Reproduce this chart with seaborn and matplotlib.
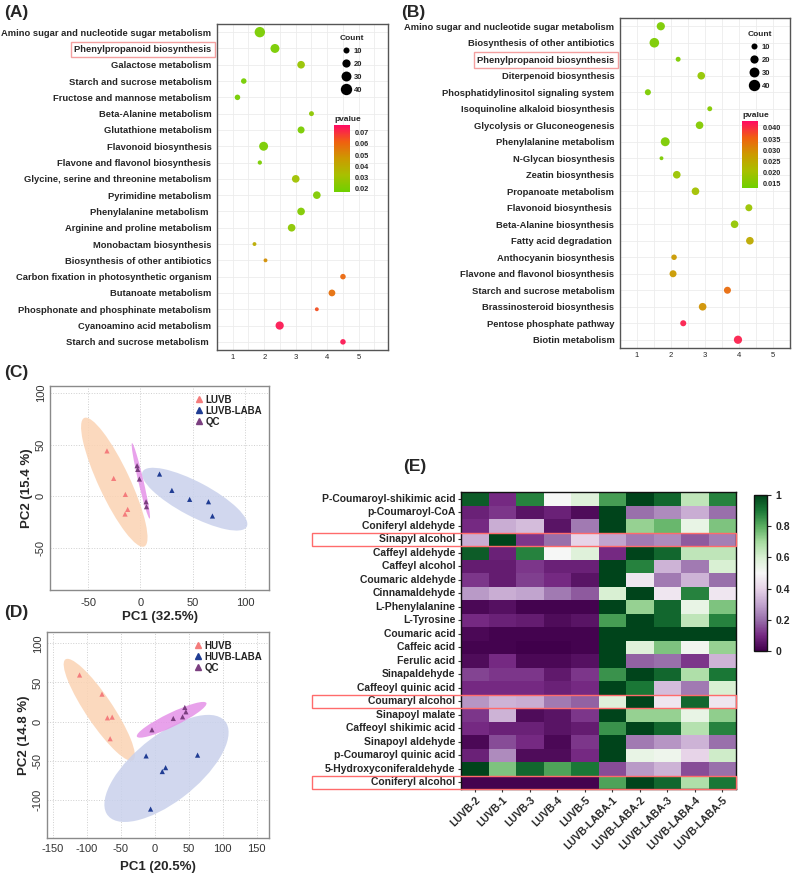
import numpy as np
import pandas as pd
import matplotlib
matplotlib.use('Agg')
import matplotlib.pyplot as plt
import seaborn as sns
from matplotlib.colors import LinearSegmentedColormap, Normalize
from matplotlib.lines import Line2D
from matplotlib.patches import Ellipse, Rectangle

# ---------- (A) KEGG enrichment, LUVB ----------
a_paths = ['Amino sugar and nucleotide sugar metabolism', 'Phenylpropanoid biosynthesis',
           'Galactose metabolism', 'Starch and sucrose metabolism', 'Fructose and mannose metabolism',
           'Beta-Alanine metabolism', 'Glutathione metabolism', 'Flavonoid biosynthesis',
           'Flavone and flavonol biosynthesis', 'Glycine, serine and threonine metabolism',
           'Pyrimidine metabolism', 'Phenylalanine metabolism ', 'Arginine and proline metabolism',
           'Monobactam biosynthesis', 'Biosynthesis of other antibiotics',
           'Carbon fixation in photosynthetic organism', 'Butanoate metabolism',
           'Phosphonate and phosphinate metabolism', 'Cyanoamino acid metabolism',
           'Starch and sucrose metabolism ']
a_rich = [1.86, 2.34, 3.17, 1.35, 1.15, 3.50, 3.17, 1.98, 1.86, 3.00,
          3.67, 3.17, 2.87, 1.69, 2.04, 4.50, 4.15, 3.67, 2.49, 4.50]
a_count = [33, 24, 17, 8, 8, 6, 14, 24, 4, 17, 17, 17, 17, 3, 3, 8, 13, 3, 20, 8]
a_pval = [0.020, 0.020, 0.028, 0.019, 0.019, 0.025, 0.020, 0.020, 0.020, 0.030,
          0.022, 0.022, 0.025, 0.040, 0.050, 0.060, 0.058, 0.065, 0.074, 0.074]

# ---------- (B) KEGG enrichment, HUVB ----------
b_paths = ['Amino sugar and nucleotide sugar metabolism', 'Biosynthesis of other antibiotics',
           'Phenylpropanoid biosynthesis', 'Diterpenoid biosynthesis',
           'Phosphatidylinositol signaling system', 'Isoquinoline alkaloid biosynthesis',
           'Glycolysis or Gluconeogenesis', 'Phenylalanine metabolism', 'N-Glycan biosynthesis',
           'Zeatin biosynthesis', 'Propanoate metabolism', 'Flavonoid biosynthesis ',
           'Beta-Alanine biosynthesis', 'Fatty acid degradation ', 'Anthocyanin biosynthesis',
           'Flavone and flavonol biosynthesis', 'Starch and sucrose metabolism',
           'Brassinosteroid biosynthesis', 'Pentose phosphate pathway', 'Biotin metabolism']
b_rich = [1.70, 1.51, 2.21, 2.89, 1.32, 3.14, 2.84, 1.83, 1.72, 2.17,
          2.72, 4.29, 3.87, 4.32, 2.09, 2.06, 3.66, 2.93, 2.36, 3.97]
b_count = [20, 28, 6, 17, 10, 6, 17, 24, 3, 17, 17, 14, 17, 17, 8, 14, 14, 17, 10, 20]
b_pval = [0.015, 0.015, 0.015, 0.018, 0.015, 0.016, 0.016, 0.015, 0.015, 0.019,
          0.020, 0.019, 0.018, 0.025, 0.028, 0.028, 0.034, 0.029, 0.041, 0.041]

# ---------- (C) PCA LUVB ----------
c_groups = ['LUVB'] * 5 + ['LUVB-LABA'] * 5 + ['QC'] * 5
c_pc1 = [-32, -25.6, -14.4, -12.2, -14.7, 18.3, 30.1, 47.1, 65.1, 68.9, -3.2, -2.6, -1.0, 5.4, 5.8]
c_pc2 = [44, 17.4, 1.9, -12.6, -17.1, 21.6, 5.8, -2.9, -5.2, -19.0, 29.7, 26.1, 16.8, -5.2, -10.0]
# 95% regions (centre, axes, angle) per group
c_ell_cx = [-25.0, 51.9, 0.4]
c_ell_cy = [13.7, -2.7, 15.0]
c_ell_w = [137, 113, 75]
c_ell_h = [30, 33, 5]
c_ell_ang = [-65.2, -28.2, -77.0]

# ---------- (D) PCA HUVB ----------
d_groups = ['HUVB'] * 5 + ['HUVB-LABA'] * 5 + ['QC'] * 5
d_pc1 = [-111, -78, -70, -63, -66, -13, 15.7, 10.8, 62.8, -6.4, -4.4, 27, 40.7, 44, 45.6]
d_pc2 = [59.5, 35, 4.7, 5.6, -22, -44, -59, -64, -43, -112, -10.6, 3.9, 6.0, 18, 12.4]
d_ell_cx = [-82.0, 17.0, 24.6]
d_ell_cy = [15.0, -60.0, 2.2]
d_ell_w = [163, 211, 111]
d_ell_h = [38, 88, 18]
d_ell_ang = [-51.9, 33.2, 22.6]

# ---------- (E) heatmap ----------
e_compounds = ['P-Coumaroyl-shikimic acid', 'p-Coumaroyl-CoA', 'Coniferyl aldehyde',
               'Sinapyl alcohol', 'Caffeyl aldehyde', 'Caffeyl alcohol', 'Coumaric aldehyde',
               'Cinnamaldehyde', 'L-Phenylalanine', 'L-Tyrosine', 'Coumaric acid', 'Caffeic acid',
               'Ferulic acid', 'Sinapaldehyde', 'Caffeoyl quinic acid', 'Coumaryl alcohol',
               'Sinapoyl malate', 'Caffeoyl shikimic acid', 'Sinapoyl aldehyde',
               'p-Coumaroyl quinic acid', '5-Hydroxyconiferaldehyde', 'Coniferyl alcohol']
e_samples = ['LUVB-2', 'LUVB-1', 'LUVB-3', 'LUVB-4', 'LUVB-5',
             'LUVB-LABA-1', 'LUVB-LABA-2', 'LUVB-LABA-3', 'LUVB-LABA-4', 'LUVB-LABA-5']
e_values = [
    [0.95, 0.10, 0.88, 0.50, 0.58, 0.83, 1.00, 0.93, 0.65, 0.88],
    [0.08, 0.12, 0.05, 0.08, 0.03, 1.00, 0.20, 0.25, 0.32, 0.20],
    [0.10, 0.32, 0.35, 0.05, 0.22, 1.00, 0.72, 0.78, 0.55, 0.75],
    [0.32, 1.00, 0.12, 0.20, 0.40, 0.30, 0.22, 0.25, 0.17, 0.23],
    [0.95, 0.08, 0.88, 0.50, 0.58, 0.10, 1.00, 0.93, 0.65, 0.65],
    [0.07, 0.07, 0.12, 0.08, 0.08, 1.00, 0.88, 0.33, 0.22, 0.60],
    [0.12, 0.07, 0.13, 0.10, 0.05, 1.00, 0.45, 0.22, 0.33, 0.20],
    [0.28, 0.32, 0.30, 0.22, 0.17, 0.60, 1.00, 0.45, 0.88, 0.45],
    [0.02, 0.04, 0.01, 0.01, 0.01, 1.00, 0.72, 0.93, 0.55, 0.75],
    [0.10, 0.08, 0.07, 0.03, 0.05, 0.83, 1.00, 0.93, 0.65, 0.88],
    [0.02, 0.01, 0.01, 0.01, 0.01, 1.00, 1.00, 1.00, 1.00, 1.00],
    [0.01, 0.01, 0.00, 0.00, 0.01, 1.00, 0.58, 0.75, 0.52, 0.72],
    [0.03, 0.10, 0.02, 0.02, 0.04, 1.00, 0.18, 0.20, 0.12, 0.33],
    [0.14, 0.12, 0.12, 0.06, 0.12, 0.85, 1.00, 0.93, 0.68, 0.90],
    [0.10, 0.10, 0.10, 0.08, 0.10, 1.00, 0.90, 0.35, 0.22, 0.60],
    [0.27, 0.33, 0.32, 0.22, 0.18, 0.58, 1.00, 0.45, 0.93, 0.45],
    [0.12, 0.33, 0.03, 0.05, 0.12, 1.00, 0.72, 0.72, 0.55, 0.73],
    [0.10, 0.08, 0.08, 0.05, 0.07, 0.85, 1.00, 0.93, 0.67, 0.88],
    [0.02, 0.15, 0.10, 0.02, 0.12, 1.00, 0.22, 0.27, 0.33, 0.20],
    [0.08, 0.25, 0.03, 0.03, 0.10, 1.00, 0.55, 0.53, 0.40, 0.62],
    [1.00, 0.75, 0.93, 0.82, 0.90, 0.15, 0.28, 0.33, 0.15, 0.20],
    [0.01, 0.01, 0.01, 0.01, 0.01, 0.82, 1.00, 0.93, 0.68, 0.90],
]
boxed_rows = ['Sinapyl alcohol', 'Coumaryl alcohol', 'Coniferyl alcohol']

sns.set_style('white')
plt.rcParams['font.family'] = ['Liberation Sans', 'DejaVu Sans']
plt.rcParams['axes.unicode_minus'] = False

W, H = 798, 873
fig = plt.figure(figsize=(W / 100, H / 100), dpi=100)


def px_axes(x0, y0, x1, y1):
    # pixel box (top-left origin) -> figure axes
    return fig.add_axes([x0 / W, 1 - y1 / H, (x1 - x0) / W, (y1 - y0) / H])


pcmap = LinearSegmentedColormap.from_list(
    'pv', ['#6fd000', '#a8c000', '#cc9a00', '#f06010', '#ff0a64'])

box_red = '#f4a0a0'


def bubble_panel(ax, paths, rich, count, pval, xlim, pnorm, cax, cticks, cfmt,
                 leg_xy):
    df = pd.DataFrame({'path': paths, 'rich': rich, 'count': count, 'pval': pval,
                       'pos': np.arange(len(paths))})
    sns.scatterplot(data=df, x='rich', y='pos', size='count', hue='pval',
                    palette=pcmap, hue_norm=pnorm, sizes=(3, 67), size_norm=(0, 40),
                    edgecolor='none', alpha=0.95, legend=False, ax=ax, zorder=3)
    ax.set_ylim(len(paths) - 0.5, -0.5)
    ax.set_xlim(*xlim)
    ax.set_yticks(range(len(paths)))
    ax.set_yticklabels(paths, fontsize=6.75, fontweight='bold')
    ax.set_xticks([1, 2, 3, 4, 5])
    ax.set_xticks(np.arange(0.5, 6.0, 0.5), minor=True)
    ax.tick_params(axis='x', labelsize=5.5, length=2, color='#555', pad=1)
    ax.tick_params(axis='y', length=2, color='#555', pad=2)
    ax.tick_params(axis='x', which='minor', length=0)
    ax.grid(True, which='both', color='#ececec', lw=0.6, zorder=0)
    ax.set_axisbelow(True)
    ax.set_xlabel('')
    ax.set_ylabel('')
    for s in ax.spines.values():
        s.set_color('#555555')
        s.set_linewidth(1.0)
    for t in ax.get_yticklabels():
        if t.get_text() == 'Phenylpropanoid biosynthesis':
            t.set_bbox(dict(boxstyle='square,pad=0.35', fc='none', ec=box_red, lw=1))
    # size legend
    handles = [Line2D([], [], marker='o', ls='', color='black', mec='none',
                      markersize=np.sqrt(3 + 64 * c / 40)) for c in (10, 20, 30, 40)]
    leg = fig.legend(handles, ['10', '20', '30', '40'], title='Count', frameon=False,
                     loc='upper left', bbox_to_anchor=leg_xy, fontsize=5.5,
                     title_fontsize=6, labelspacing=0.75, handletextpad=0.4,
                     borderpad=0, handlelength=1.2)
    leg.get_title().set_fontweight('bold')
    for t in leg.get_texts():
        t.set_fontweight('bold')
    # colour bar
    sm = plt.cm.ScalarMappable(norm=Normalize(*pnorm), cmap=pcmap)
    cb = fig.colorbar(sm, cax=cax, ticks=cticks, format=cfmt)
    cb.outline.set_visible(False)
    cb.ax.tick_params(labelsize=5.3, length=2, color='white', pad=1.5)
    for t in cb.ax.get_yticklabels():
        t.set_fontweight('bold')
    cax.set_title('pvalue', fontsize=6, fontweight='bold', loc='left', pad=3)


axA = px_axes(217, 24, 388, 350)
caxA = px_axes(334, 125, 350, 192)
bubble_panel(axA, a_paths, a_rich, a_count, a_pval, (0.82, 5.93), (0.017, 0.077),
             caxA, [0.02, 0.03, 0.04, 0.05, 0.06, 0.07], '%.2f', (336 / W, 1 - 31 / H))

axB = px_axes(620, 18, 790, 348)
caxB = px_axes(742, 121, 758, 188)
bubble_panel(axB, b_paths, b_rich, b_count, b_pval, (0.83, 5.17), (0.0132, 0.0431),
             caxB, [0.015, 0.020, 0.025, 0.030, 0.035, 0.040], '%.3f', (744 / W, 1 - 27 / H))

# ---------- PCA panels ----------
pt_cols = ['#f47c7c', '#1f3c93', '#7b3f80']
fill_cols = ['#fbd3b3', '#c9d1ec', '#e592e8']


def pca_panel(ax, groups, pc1, pc2, ell, xlim, ylim, xt, yt, xlabel, ylabel,
              xpad, lpad):
    df = pd.DataFrame({'g': groups, 'x': pc1, 'y': pc2})
    names = list(dict.fromkeys(groups))
    for (cx, cy, w, h, ang), fc in zip(zip(*ell), fill_cols):
        ax.add_patch(Ellipse((cx, cy), w, h, angle=ang, fc=fc, ec='none',
                             alpha=0.85, zorder=1))
    sns.scatterplot(data=df, x='x', y='y', hue='g', palette=dict(zip(names, pt_cols)),
                    marker='^', s=14, edgecolor='none', legend=False, ax=ax, zorder=3)
    ax.set_xlim(*xlim)
    ax.set_ylim(*ylim)
    ax.set_xticks(xt)
    ax.set_yticks(yt)
    ax.grid(True, ls=':', color='#cfcfcf', lw=0.7)
    ax.tick_params(labelsize=8, colors='#333333', length=0, pad=3)
    ax.tick_params(axis='x', pad=xpad)
    for t in ax.get_yticklabels():
        t.set_rotation(90)
        t.set_va('center')
    for s in ax.spines.values():
        s.set_color('#8a8a8a')
        s.set_linewidth(1.0)
    ax.set_xlabel(xlabel, fontsize=9.5, fontweight='bold', labelpad=lpad)
    ax.set_ylabel(ylabel, fontsize=9.5, fontweight='bold', labelpad=2)
    handles = [Line2D([], [], marker='^', ls='', color=c, markersize=4.5) for c in pt_cols]
    leg = ax.legend(handles, names, loc='upper right', bbox_to_anchor=(1.0, 0.99),
                    frameon=False, fontsize=7, handletextpad=0.2, labelspacing=0.1,
                    handlelength=1.0, borderaxespad=0.3)
    for t in leg.get_texts():
        t.set_fontweight('bold')
        t.set_color('#222222')


axC = px_axes(50, 386, 269, 590)
pca_panel(axC, c_groups, c_pc1, c_pc2,
          (c_ell_cx, c_ell_cy, c_ell_w, c_ell_h, c_ell_ang),
          (-86.5, 123), (-90.6, 106.8),
          [-50, 0, 50, 100], [-50, 0, 50, 100], 'PC1 (32.5%)', 'PC2 (15.4 %)', 6, 2)

axD = px_axes(47, 632, 269, 838)
pca_panel(axD, d_groups, d_pc1, d_pc2,
          (d_ell_cx, d_ell_cy, d_ell_w, d_ell_h, d_ell_ang),
          (-159, 168), (-149, 114.5),
          [-150, -100, -50, 0, 50, 100, 150], [-100, -50, 0, 50, 100],
          'PC1 (20.5%)', 'PC2 (14.8 %)', 4.5, 5)

# ---------- (E) heatmap ----------
axE = px_axes(461, 492, 736, 789)
caxE = px_axes(754, 495, 767, 651)
hm = pd.DataFrame(e_values, index=e_compounds, columns=e_samples)
sns.heatmap(hm, cmap='PRGn', vmin=0, vmax=1, ax=axE, cbar_ax=caxE,
            xticklabels=True, yticklabels=True,
            cbar_kws={'ticks': [0, 0.2, 0.4, 0.6, 0.8, 1]})
axE.set_xlabel('')
axE.set_ylabel('')
axE.tick_params(axis='both', length=2.5, width=0.8, color='#333', pad=1.5)
axE.tick_params(axis='y', left=True)
axE.tick_params(axis='x', bottom=True)
axE.set_yticklabels(axE.get_yticklabels(), fontsize=7.5, fontweight='bold', rotation=0)
axE.set_xticklabels(axE.get_xticklabels(), fontsize=7.5, fontweight='bold', rotation=45,
                    ha='right', rotation_mode='anchor')
for s in axE.spines.values():
    s.set_visible(True)
    s.set_color('#111111')
    s.set_linewidth(1.0)
for name in boxed_rows:
    r = e_compounds.index(name)
    axE.add_patch(Rectangle((-5.43, r), 15.43, 1, fill=False, ec='#ff6b6b', lw=1.0,
                            clip_on=False, zorder=5))
cbE = axE.collections[0].colorbar
cbE.outline.set_edgecolor('#111111')
cbE.outline.set_linewidth(1.0)
cbE.ax.set_yticklabels(['0', '0.2', '0.4', '0.6', '0.8', '1'], fontsize=7.5,
                       fontweight='bold')
cbE.ax.tick_params(length=3, width=0.8, pad=3)

# ---------- panel letters ----------
for txt, x, y in [('(A)', 4, 12), ('(B)', 401, 12), ('(C)', 4, 372),
                  ('(D)', 4, 612), ('(E)', 403, 467)]:
    fig.text(x / W, 1 - y / H, txt, fontsize=12.5, fontweight='bold', va='center')

fig.savefig('out.png', dpi=100)
